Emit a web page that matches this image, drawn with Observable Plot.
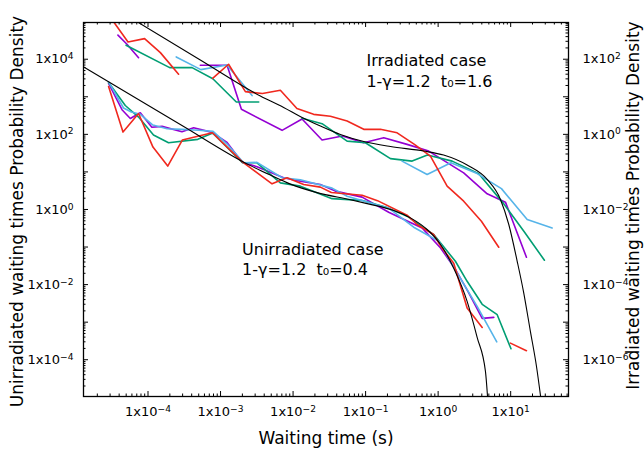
<!DOCTYPE html>
<html>
<head>
<meta charset="utf-8">
<script src="https://cdn.jsdelivr.net/npm/d3@7"></script>
<script src="https://cdn.jsdelivr.net/npm/@observablehq/plot@0.6"></script>
<style>
  html, body { margin: 0; padding: 0; background: #fff; }
  #chart svg { display: block; }
</style>
</head>
<body>
<div id="chart"></div>
<script>
// ---------- tick values and labels ----------
const xTickValues = [1e-4, 1e-3, 1e-2, 1e-1, 1, 10];
const xTickLabels = ["1x10⁻⁴", "1x10⁻³", "1x10⁻²", "1x10⁻¹", "1x10⁰", "1x10¹"];
const yTickValues = [1e-4, 1e-2, 1, 1e2, 1e4];
const yTickLabels = ["1x10⁻⁴", "1x10⁻²", "1x10⁰", "1x10²", "1x10⁴"];
const yRightLabels = ["1x10⁻⁶", "1x10⁻⁴", "1x10⁻²", "1x10⁰", "1x10²"];
const xDecades = [1e-4, 1e-3, 1e-2, 1e-1, 1, 10];
const yDecades = [1e-4, 1e-3, 1e-2, 1e-1, 1, 10, 1e2, 1e3, 1e4];

// ---------- unirradiated (left axis) [time s, density] ----------
const unirrRed = [[2.86e-5,1880],[4.52e-5,115],[7.41e-5,359],[1.17e-4,45.8],[1.87e-4,14.3],[2.97e-4,70.5],[7.71e-4,110],[1.98e-3,18.8],[5.13e-3,4.82],[8.26e-3,6.97],[1.40e-2,4.64],[2.38e-2,3.94],[3.37e-2,2.84],[8.95e-2,2.40],[0.146,1.72],[0.373,0.705],[0.513,0.398],[0.869,0.215],[1.11,0.0989],[1.64,0.0370],[2.51,2.38e-3],[4.05,7.26e-4],null,[9.93,2.77e-4],[16.5,1.74e-4]];
const unirrPurple = [[2.86e-5,2260],[4.38e-5,453],[5.70e-5,264],[7.83e-5,377],[1.13e-4,154],[1.56e-4,163],[2.94e-4,117],[4.26e-4,150],[7.64e-4,113],[1.23e-3,61.2],[1.98e-3,18.2],[3.18e-3,13.8],[7.41e-3,6.97],[1.26e-2,5.69],[2.38e-2,4.64],[3.83e-2,3.08],[8.95e-2,2.13],[0.208,0.847],[0.601,0.323],[1.08,0.0946],[1.73,0.0256],[2.62,6.24e-3],[4.05,1.26e-3],[5.85,1.34e-3]];
const unirrGreen = [[2.86e-5,2410],[4.86e-5,586],[7.41e-5,289],[1.19e-4,95.8],[1.92e-4,59.7],[4.86e-4,73.6],[7.83e-4,108],[2.01e-3,17.5],[3.18e-3,17.5],[6.68e-3,5.12],[1.26e-2,4.18],[3.45e-2,1.94],[8.75e-2,1.75],[0.198,1.12],[0.373,0.662],[0.869,0.215],[1.73,0.0418],[2.51,0.01225],[4.05,2.99e-3],[6.52,1.58e-3],[10.1,1.96e-4]];
const unirrBlue = [[2.86e-5,2480],[4.60e-5,503],[5.89e-5,394],[7.83e-5,341],[1.17e-4,177],[1.83e-4,141],[2.94e-4,136],[4.99e-4,128],[7.89e-4,120],[1.23e-3,55.1],[2.08e-3,17.5],[3.18e-3,18.0],[7.05e-3,6.97],[1.26e-2,6.15],[3.45e-2,3.70],[5.56e-2,2.26],[0.208,1.08],[0.460,0.337],[1.02,0.143],[1.83,0.0204],[3.45,2.64e-3],[6.43,2.99e-4]];
const unirrFit = [[1.30e-5,6240],[2.94e-4,172],[2.58e-3,14.7],[4.86e-3,8.22],[9.18e-3,4.73],[2.14e-2,2.81],[6.17e-2,1.82],[0.105,1.43],[0.244,0.940],[0.415,0.597],[0.705,0.293],[1.08,0.117],[1.64,0.0272],[2.51,3.59e-3],[3.45,3.94e-4],[4.49,4.88e-5],[4.83,8.73e-6]];

// ---------- irradiated (right axis) [time s, density] ----------
const irrRed = [[2.86e-5,1520],[5.30e-5,289],[8.97e-5,354],[1.48e-4,150],[2.64e-4,39.8],null,[7.78e-4,31.1],[1.29e-3,73.6],[2.20e-3,13.7],[3.78e-3,12.2],[6.68e-3,14.9],[1.13e-2,4.88],[1.92e-2,3.41],[3.27e-2,3.02],[5.56e-2,2.26],[9.42e-2,1.36],[0.160,1.36],[0.272,1.10],[0.471,0.541],[0.783,0.264],[1.33,0.0418],[2.25,0.01665],[3.95,4.88e-3],[6.85,9.89e-4]];
const irrPurple = [[3.85e-5,437],[5.13e-5,251],[7.41e-5,110],null,[5.26e-4,69.2],[1.23e-3,69.2],[1.94e-3,4.64],[7.05e-3,1.28],[1.33e-2,2.56],[2.51e-2,0.705],[4.79e-2,0.902],[9.42e-2,0.597],[0.178,0.811],[0.373,0.541],[0.741,0.359],[2.25,0.0946],[4.74,0.0261],[8.47,0.01567],[16.5,5.35e-4]];
const irrGreen = [[4.98e-5,236],[1.99e-4,59.7],[4.05e-4,59.7],[7.83e-4,30.2],[1.65e-3,7.26],[3.36e-3,7.26],null,[1.33e-2,2.67],[2.51e-2,1.92],[5.56e-2,0.662],[9.93e-2,0.597],[0.220,0.226],[0.438,0.194],[0.711,0.281],[1.56,0.194],[3.63,0.0889],[8.04,0.0141],[15.2,2.64e-3],[29.2,4.45e-4]];
const irrBlue = [[2.45e-4,115],[5.35e-4,52.8],[1.23e-3,70.5],[2.72e-3,10.8],null,[0.318,0.194],[0.705,0.0857],[1.50,0.175],[3.45,0.0902],[7.46,0.0359],[16.9,5.41e-3],[37.3,3.23e-3]];
const irrFit = [[6.07e-5,1190],[5.26e-4,95.7],[3.54e-3,10.5],[7.41e-3,5.19],[1.33e-2,2.81],[2.38e-2,1.66],[4.49e-2,0.989],[9.42e-2,0.643],[0.220,0.473],[0.632,0.359],[1.19,0.281],[2.51,0.152],[4.74,0.0631],[7.23,0.0185],[9.42,3.98e-3],[12.3,4.18e-4],[15.0,6.62e-5],[18.7,5.69e-6],[22.7,6.62e-7],[26.2,8.73e-8]];

// right axis = left axis / 100
const rightToLeft = 100;

const colors = { red: "#f0281e", purple: "#9400d3", green: "#009e73", blue: "#56b4e9", fit: "#000000" };

// ---------- helpers ----------
const toPts = (arr, k = 1) => arr.map(d => d ? { t: d[0], p: d[1] * k } : { t: null, p: null });
const minorTicks = (lo, hi) => {
  const out = [];
  for (let e = Math.floor(Math.log10(lo)); e <= Math.ceil(Math.log10(hi)); e++)
    for (let k = 2; k <= 9; k++) { const v = k * Math.pow(10, e); if (v >= lo && v <= hi) out.push(v); }
  return out;
};

const W = 644, H = 449;
const mL = 83, mR = 76, mT = 22, mB = 53;
const fw = W - mL - mR, fh = H - mT - mB;
const xDomain = [1.29e-5, 62.7];
const yDomain = [1.05e-5, 9.5e4];
const xMinor = minorTicks(xDomain[0], xDomain[1]);
const yMinor = minorTicks(yDomain[0], yDomain[1]);

const xLab = new Map(xTickValues.map((v, i) => [v, xTickLabels[i]]));
const yLab = new Map(yTickValues.map((v, i) => [v, yTickLabels[i]]));
const yRLab = new Map(yTickValues.map((v, i) => [v, yRightLabels[i]]));

const major = 5, minor = 2.5;
const ln = (data, k, stroke, w, curve = "linear") =>
  Plot.line(toPts(data, k), { x: "t", y: "p", stroke, strokeWidth: w, clip: true, curve });

const chart = Plot.plot({
  width: W, height: H,
  marginLeft: mL, marginRight: mR, marginTop: mT, marginBottom: mB,
  style: { fontFamily: "DejaVu Sans", color: "#000", background: "#fff" },
  x: { type: "log", domain: xDomain },
  y: { type: "log", domain: yDomain },
  marks: [
    // data: unirradiated
    ln(unirrPurple, 1, colors.purple, 1.6),
    ln(unirrGreen, 1, colors.green, 1.6),
    ln(unirrBlue, 1, colors.blue, 1.6),
    ln(unirrRed, 1, colors.red, 1.6),
    // data: irradiated (right axis)
    ln(irrPurple, rightToLeft, colors.purple, 1.6),
    ln(irrGreen, rightToLeft, colors.green, 1.6),
    ln(irrBlue, rightToLeft, colors.blue, 1.6),
    ln(irrRed, rightToLeft, colors.red, 1.6),
    // fits
    ln(unirrFit, 1, colors.fit, 1.1, "monotone-x"),
    ln(irrFit, rightToLeft, colors.fit, 1.1, "monotone-x"),
    // inward ticks: bottom/top
    Plot.tickX(xDecades, { x: d => d, insetTop: fh - major, stroke: "#000" }),
    Plot.tickX(xMinor, { x: d => d, insetTop: fh - minor, stroke: "#000" }),
    Plot.tickX(xDecades, { x: d => d, insetBottom: fh - major, stroke: "#000" }),
    Plot.tickX(xMinor, { x: d => d, insetBottom: fh - minor, stroke: "#000" }),
    // inward ticks: left/right
    Plot.tickY(yDecades, { y: d => d, insetRight: fw - major, stroke: "#000" }),
    Plot.tickY(yMinor, { y: d => d, insetRight: fw - minor, stroke: "#000" }),
    Plot.tickY(yDecades, { y: d => d, insetLeft: fw - major, stroke: "#000" }),
    Plot.tickY(yMinor, { y: d => d, insetLeft: fw - minor, stroke: "#000" }),
    // tick labels
    Plot.axisX({ ticks: xTickValues, anchor: "bottom", tickSize: 0, tickPadding: 10, tickFormat: d => xLab.get(d), fontSize: 13, label: null }),
    Plot.axisY({ ticks: yTickValues, anchor: "left", tickSize: 0, tickPadding: 10, tickFormat: d => yLab.get(d), fontSize: 13, label: null }),
    Plot.axisY({ ticks: yTickValues, anchor: "right", tickSize: 0, tickPadding: 14, tickFormat: d => yRLab.get(d), fontSize: 13, label: null }),
    Plot.frame({ stroke: "#000", strokeWidth: 1.3 }),
    // axis titles
    Plot.text(["Waiting time (s)"], { text: d => d, frameAnchor: "bottom", dy: 42, fontSize: 17, textAnchor: "middle", lineAnchor: "middle" }),
    Plot.text(["Unirradiated waiting times Probability Density"], { text: d => d, frameAnchor: "left", dx: -66, dy: 2, rotate: -90, fontSize: 17, textAnchor: "middle", lineAnchor: "middle" }),
    Plot.text(["Irradiated waiting times Probability Density"], { text: d => d, frameAnchor: "right", dx: 65, dy: -4, rotate: -90, fontSize: 17, textAnchor: "middle", lineAnchor: "middle" }),
    // annotations
    Plot.text(["Irradiated case\n1-γ=1.2\u00a0\u00a0t₀=1.6"], { text: d => d, x: 0.1026, y: 5350, textAnchor: "start", lineAnchor: "middle", lineHeight: 1.31, fontSize: 16 }),
    Plot.text(["Unirradiated case\n1-γ=1.2\u00a0\u00a0t₀=0.4"], { text: d => d, x: 1.98e-3, y: 0.0502, textAnchor: "start", lineAnchor: "middle", lineHeight: 1.31, fontSize: 16 })
  ]
});

// render the exponent of tick labels as a real superscript (tspan)
const supMap = { "⁰": "0", "¹": "1", "²": "2", "³": "3", "⁴": "4", "⁵": "5", "⁶": "6", "⁷": "7", "⁸": "8", "⁹": "9", "⁻": "−" };
chart.querySelectorAll('g[aria-label$="tick label"] text').forEach(t => {
  const s = t.textContent;
  const m = s.match(/^(.*?)([⁰¹²³⁴⁵⁶⁷⁸⁹⁻]+)$/);
  if (!m) return;
  t.textContent = m[1];
  const ts = document.createElementNS("http://www.w3.org/2000/svg", "tspan");
  ts.setAttribute("dy", "-0.45em");
  ts.setAttribute("font-size", "70%");
  ts.textContent = [...m[2]].map(c => supMap[c]).join("");
  t.appendChild(ts);
});

document.getElementById("chart").appendChild(chart);
</script>
</body>
</html>
